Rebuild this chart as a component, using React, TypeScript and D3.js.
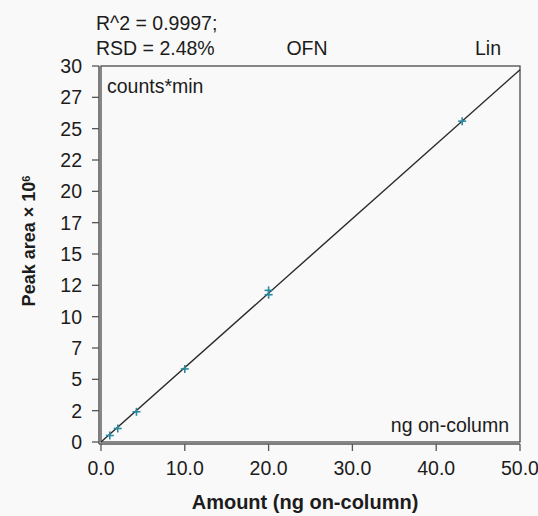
import React from "react";
import * as d3 from "d3";

const amounts = [1.05, 2.0, 4.23, 10.0, 20.0, 20.0, 43.1];
const areas = [0.52, 1.08, 2.41, 5.83, 12.1, 11.75, 25.6];
const fitX = [0, 50];
const fitY = [0, 29.7];
const xTicks = [0, 10, 20, 30, 40, 50];
const xTickLabels = ["0.0", "10.0", "20.0", "30.0", "40.0", "50.0"];
const yTicks = [0, 2.5, 5, 7.5, 10, 12.5, 15, 17.5, 20, 22.5, 25, 27.5, 30];
const yTickLabels = ["0", "2", "5", "7", "10", "12", "15", "17", "20", "22", "25", "27", "30"];
const statLines = ["R^2 = 0.9997;", "RSD = 2.48%"];
const compound = "OFN";
const fitType = "Lin";
const yUnit = "counts*min";
const xUnit = "ng on-column";
const xTitle = "Amount (ng on-column)";
const yTitle = "Peak area \u00d7 10";

const W = 538;
const H = 516;
const FONT = "'Liberation Sans', Arial, Helvetica, sans-serif";
const TEXT = "#1c1c1c";

export default function App() {
  const left = 101;
  const right = 520;
  const top = 66;
  const bottom = 442;
  const x = d3.scaleLinear().domain([0, 50]).range([left, right]);
  const y = d3.scaleLinear().domain([0, 30]).range([bottom, top]);
  const line = d3
    .line<number>()
    .x((_, i) => x(fitX[i]))
    .y((d) => y(d));
  const axisX = left - 2;
  const axisY = bottom + 2;
  return (
    <div style={{ position: "absolute", left: 0, top: 0, width: W, height: H, background: "#f9f9f9" }}>
      <svg width={W} height={H} style={{ display: "block", fontFamily: FONT }}>
        <rect x={0} y={0} width={W} height={H} fill="#f9f9f9" />
        {/* frame */}
        <rect x={left} y={top} width={right - left} height={bottom - top} fill="none" stroke="#4a4a4a" strokeWidth={1.3} />
        {/* axes */}
        <line x1={axisX} y1={top} x2={axisX} y2={axisY} stroke="#555" strokeWidth={1.5} />
        <line x1={axisX} y1={axisY} x2={right} y2={axisY} stroke="#555" strokeWidth={1.5} />
        {yTicks.map((t, i) => (
          <g key={"y" + i}>
            <line x1={axisX - 7} x2={axisX} y1={y(t)} y2={y(t)} stroke="#555" strokeWidth={1.3} />
            <text x={82} y={y(t)} dy="0.36em" textAnchor="end" fontSize={19.5} fill={TEXT}>
              {yTickLabels[i]}
            </text>
          </g>
        ))}
        {xTicks.map((t, i) => (
          <g key={"x" + i}>
            <line x1={x(t)} x2={x(t)} y1={axisY} y2={axisY + 7} stroke="#555" strokeWidth={1.3} />
            <text x={x(t)} y={475} textAnchor="middle" fontSize={19.5} fill={TEXT}>
              {xTickLabels[i]}
            </text>
          </g>
        ))}
        {/* fit line */}
        <path d={line(fitY) || ""} fill="none" stroke="#2a2a2a" strokeWidth={1.4} />
        {/* points */}
        {amounts.map((a, i) => {
          const cx = x(a);
          const cy = y(areas[i]);
          return (
            <g key={"p" + i} stroke="#2a8aa0" strokeWidth={1.6}>
              <line x1={cx - 4} x2={cx + 4} y1={cy} y2={cy} />
              <line x1={cx} x2={cx} y1={cy - 4} y2={cy + 4} />
            </g>
          );
        })}
        {/* header text */}
        {statLines.map((s, i) => (
          <text key={"s" + i} x={96} y={30 + i * 25} fontSize={19.5} fill={TEXT}>
            {s}
          </text>
        ))}
        <text x={307} y={55} textAnchor="middle" fontSize={19.5} fill={TEXT}>
          {compound}
        </text>
        <text x={501} y={55} textAnchor="end" fontSize={19.5} fill={TEXT}>
          {fitType}
        </text>
        <text x={107} y={93} fontSize={19.5} fill={TEXT}>
          {yUnit}
        </text>
        <text x={509} y={432} textAnchor="end" fontSize={19.5} fill={TEXT}>
          {xUnit}
        </text>
        <text x={305} y={509} textAnchor="middle" fontSize={20} fontWeight="bold" fill={TEXT}>
          {xTitle}
        </text>
        <text
          transform={`translate(35, 241) rotate(-90)`}
          textAnchor="middle"
          fontSize={18}
          fontWeight="bold"
          fill={TEXT}
        >
          {yTitle}
          <tspan dy="-0.5em" fontSize={11}>6</tspan>
        </text>
      </svg>
    </div>
  );
}
